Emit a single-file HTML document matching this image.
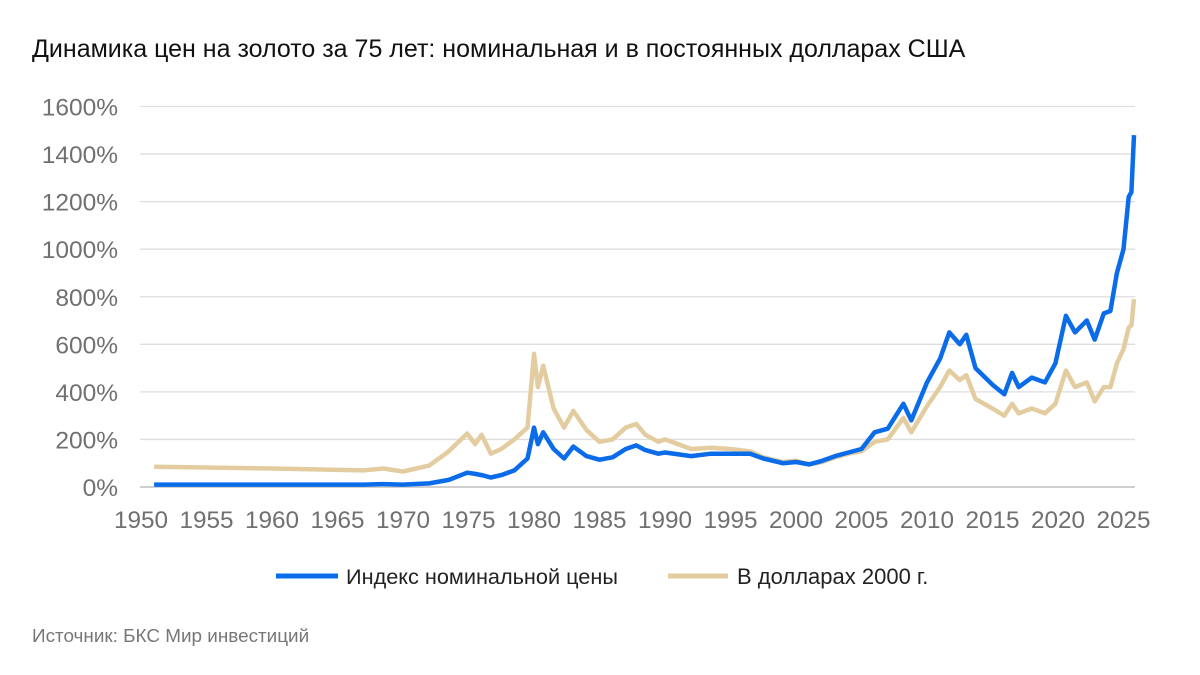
<!DOCTYPE html>
<html><head><meta charset="utf-8"><style>
body{margin:0;background:#fff;width:1200px;height:670px;overflow:hidden;font-family:"Liberation Sans",Arial,sans-serif}
</style></head><body>
<svg id="s" width="1200" height="670" xmlns="http://www.w3.org/2000/svg" font-family="Liberation Sans, Arial, sans-serif">
<text x="32" y="57" font-size="25" fill="#111">Динамика цен на золото за 75 лет: номинальная и в постоянных долларах США</text>
<g id="grid" stroke="#dedede" stroke-width="1.3"></g>
<g id="ylab" font-size="24.5" fill="#707070" text-anchor="end"></g>
<g id="xlab" font-size="24.3" fill="#707070" text-anchor="middle"></g>
<path id="beige" fill="none" stroke="#e3cda0" stroke-width="4.5" stroke-linejoin="round"/>
<path id="blue" fill="none" stroke="#0a6ce8" stroke-width="4.5" stroke-linejoin="round"/>
<line x1="276" y1="576" x2="338" y2="576" stroke="#0a6ce8" stroke-width="5"/>
<text x="346" y="584" font-size="21.7" fill="#222">Индекс номинальной цены</text>
<line x1="668" y1="576" x2="728" y2="576" stroke="#e3cda0" stroke-width="5"/>
<text x="737" y="584" font-size="22" fill="#222">В долларах 2000 г.</text>
<text x="32" y="642" font-size="18.9" fill="#777">Источник: БКС Мир инвестиций</text>
</svg>
<script>
var ns="http://www.w3.org/2000/svg";
function Y(v){return 487-v*0.2378}
function X(y){return 141+(y-1950)*13.1}
var g=document.getElementById('grid'),yl=document.getElementById('ylab'),xl=document.getElementById('xlab');
for(var v=0;v<=1600;v+=200){var l=document.createElementNS(ns,'line');l.setAttribute('x1',140);l.setAttribute('x2',1135);l.setAttribute('y1',Y(v));l.setAttribute('y2',Y(v));if(v==0){l.setAttribute('stroke','#cfcfcf');l.setAttribute('stroke-width','2');}g.appendChild(l);
var t=document.createElementNS(ns,'text');t.setAttribute('x',118);t.setAttribute('y',Y(v)+9);t.textContent=v+'%';yl.appendChild(t);}
for(var y=1950;y<=2025;y+=5){var t=document.createElementNS(ns,'text');t.setAttribute('x',X(y));t.setAttribute('y',528);t.textContent=y;xl.appendChild(t);}
var d=[[1951,10,85],[1960,10,78],[1967,10,70],[1968.5,12,78],[1970,10,65],[1972,15,90],[1973.5,30,150],[1974.9,60,225],[1975.5,55,180],[1976,50,220],[1976.7,40,140],[1977.5,50,160],[1978.5,70,200],[1979.5,120,250],[1980.0,250,560],[1980.3,180,420],[1980.7,230,510],[1981.5,160,330],[1982.3,120,250],[1983.0,170,320],[1984,130,240],[1985,115,190],[1986,125,200],[1987,160,250],[1987.8,175,265],[1988.5,155,220],[1989.5,140,190],[1990,145,200],[1992,130,160],[1993.5,140,165],[1995,140,160],[1996.5,140,150],[1997.5,120,125],[1999,100,105],[2000,105,110],[2001,95,95],[2002,110,105],[2003,130,125],[2004,145,140],[2005,160,150],[2006,230,190],[2007,245,200],[2008.2,350,290],[2008.8,280,230],[2010,440,340],[2011,540,420],[2011.7,650,490],[2012.5,600,450],[2013,640,470],[2013.7,500,370],[2015,430,330],[2015.9,390,300],[2016.5,480,350],[2017,420,310],[2018,460,330],[2019,440,310],[2019.8,520,350],[2020.6,720,490],[2021.3,650,420],[2022.2,700,440],[2022.8,620,360],[2023.5,730,420],[2024,740,420],[2024.5,900,520],[2025,1000,580],[2025.4,1220,670],[2025.6,1240,680],[2025.8,1480,790]];
function path(i){return d.map(function(p,k){return (k?'L':'M')+X(p[0]).toFixed(1)+','+Y(p[i]).toFixed(1)}).join('')}
document.getElementById('blue').setAttribute('d',path(1));
document.getElementById('beige').setAttribute('d',path(2));
</script>
</body></html>
